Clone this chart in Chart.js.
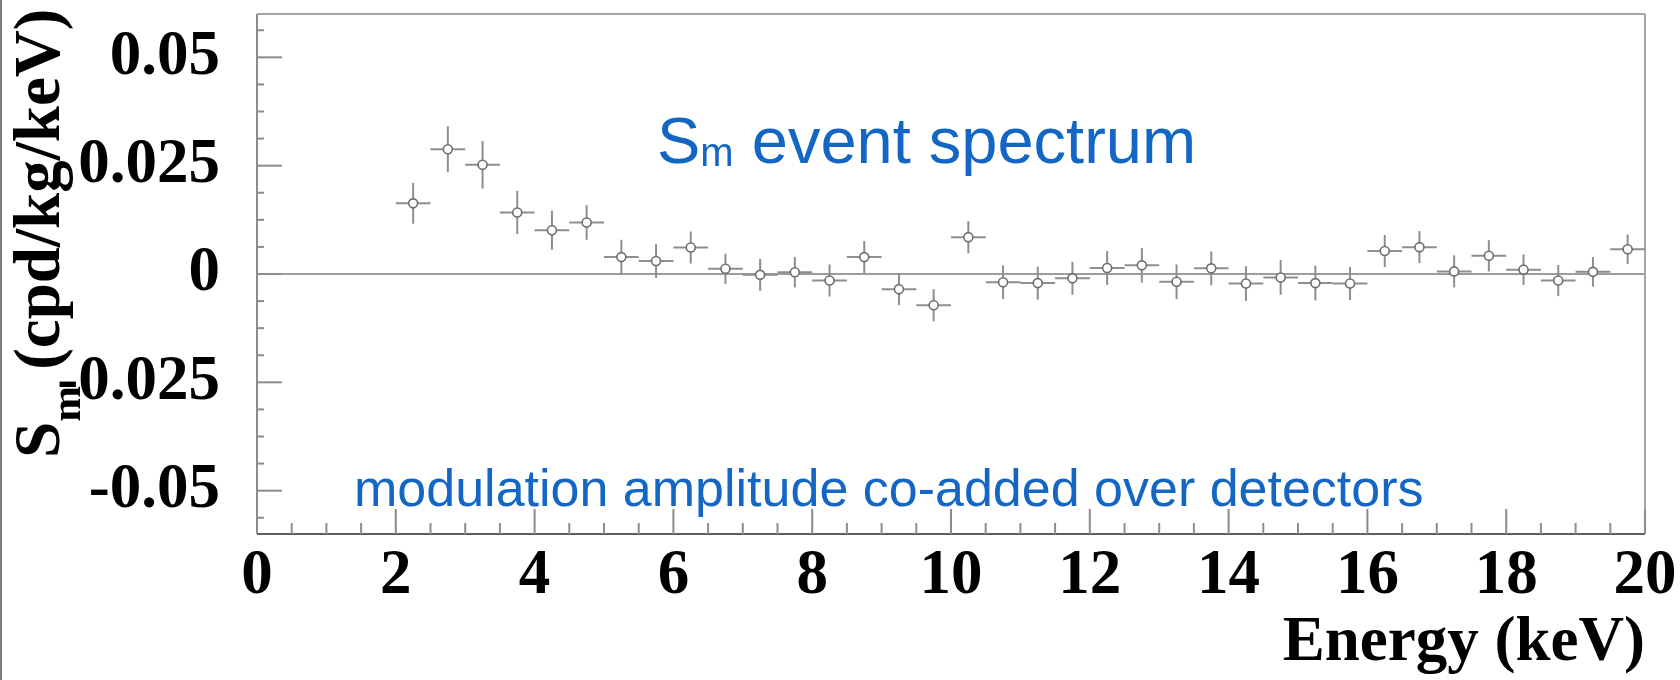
<!DOCTYPE html>
<html>
<head>
<meta charset="utf-8">
<script src="https://cdn.jsdelivr.net/npm/chart.js@4.4.1/dist/chart.umd.min.js"></script>
<style>
  html, body { margin: 0; padding: 0; background: #fff; }
  #wrap { width: 1680px; height: 680px; position: relative; }
</style>
</head>
<body>
<div id="wrap"><canvas id="smChart" width="1680" height="680"></canvas></div>
<script>
// energy bin centres (keV), 0.5 keV wide
const energyBins = [2.25, 2.75, 3.25, 3.75, 4.25, 4.75, 5.25, 5.75, 6.25, 6.75,
                    7.25, 7.75, 8.25, 8.75, 9.25, 9.75, 10.25, 10.75, 11.25, 11.75,
                    12.25, 12.75, 13.25, 13.75, 14.25, 14.75, 15.25, 15.75, 16.25, 16.75,
                    17.25, 17.75, 18.25, 18.75, 19.25, 19.75];
const binHalfWidth = 0.25;

// modulation amplitude Sm and its error (cpd/kg/keV)
const smValues = [0.0163, 0.0288, 0.0252, 0.0142, 0.0101, 0.0119, 0.0039, 0.0030, 0.0061, 0.0012,
                  -0.0002, 0.0004, -0.0015, 0.0039, -0.0035, -0.0072, 0.0085, -0.0019, -0.0021, -0.0010,
                  0.0014, 0.0020, -0.0018, 0.0013, -0.0022, -0.0008, -0.0021, -0.0022, 0.0053, 0.0062,
                  0.0006, 0.0042, 0.0010, -0.0015, 0.0005, 0.0057];
const smErrors = [0.0047, 0.0053, 0.0055, 0.0050, 0.0045, 0.0040, 0.0040, 0.0039, 0.0037, 0.0035,
                  0.0037, 0.0035, 0.0037, 0.0037, 0.0037, 0.0037, 0.0037, 0.0039, 0.0038, 0.0038,
                  0.0039, 0.0040, 0.0040, 0.0039, 0.0040, 0.0040, 0.0040, 0.0038, 0.0037, 0.0037,
                  0.0037, 0.0036, 0.0035, 0.0036, 0.0034, 0.0034];

const xTickValues = [0, 2, 4, 6, 8, 10, 12, 14, 16, 18, 20];
const yTickValues = [-0.05, -0.025, 0, 0.025, 0.05];
const yTickLabels = ['-0.05', '-0.025', '0', '0.025', '0.05'];

const serifBold = 'bold 63px "Liberation Serif"';
const blue = '#1366c3';

function seg(ctx, x1, y1, x2, y2) {
  ctx.beginPath();
  ctx.moveTo(x1, y1);
  ctx.lineTo(x2, y2);
  ctx.stroke();
}

// frame, inward ticks, zero line and error bars in the style of a ROOT canvas
const rootFrame = {
  id: 'rootFrame',
  beforeDatasetsDraw(chart) {
    const { ctx, chartArea: a } = chart;
    const x = chart.scales.x, y = chart.scales.y;
    ctx.save();

    // slide edge on the far left
    ctx.fillStyle = '#7a7a7a';
    ctx.fillRect(0, 0, 2, chart.height);

    ctx.lineWidth = 2;
    ctx.strokeStyle = '#9c9c9c';
    const y0 = y.getPixelForValue(0);
    seg(ctx, a.left, y0, a.right, y0);

    ctx.strokeStyle = '#a6a6a6';
    seg(ctx, a.left, a.top, a.right, a.top);
    seg(ctx, a.right, a.top, a.right, a.bottom);
    ctx.strokeStyle = '#8c8c8c';
    seg(ctx, a.left, a.top, a.left, a.bottom);
    ctx.strokeStyle = '#5e5e5e';
    seg(ctx, a.left, a.bottom, a.right, a.bottom);

    // x ticks: major every label, 3 minor in between
    ctx.strokeStyle = '#8c8c8c';
    const xStep = (xTickValues[1] - xTickValues[0]) / 4;
    for (let v = x.min; v <= x.max + 1e-9; v += xStep) {
      const px = x.getPixelForValue(v);
      const major = xTickValues.some(t => Math.abs(t - v) < 1e-9);
      seg(ctx, px, a.bottom, px, a.bottom - (major ? 25 : 11));
    }
    // y ticks
    const yStep = (yTickValues[1] - yTickValues[0]) / 4;
    let yStart = yTickValues[0];
    while (yStart - yStep >= y.min - 1e-9) yStart -= yStep;
    for (let v = yStart; v <= y.max + 1e-9; v += yStep) {
      const py = y.getPixelForValue(v);
      const major = yTickValues.some(t => Math.abs(t - v) < 1e-9);
      seg(ctx, a.left, py, a.left + (major ? 25 : 7), py);
    }

    // error bars: bin width horizontally, statistical error vertically
    ctx.strokeStyle = '#8e8e8e';
    ctx.lineWidth = 2;
    energyBins.forEach((e, i) => {
      const px = x.getPixelForValue(e);
      const py = y.getPixelForValue(smValues[i]);
      seg(ctx, x.getPixelForValue(e - binHalfWidth), py, x.getPixelForValue(e + binHalfWidth), py);
      seg(ctx, px, y.getPixelForValue(smValues[i] - smErrors[i]), px, y.getPixelForValue(smValues[i] + smErrors[i]));
    });
    ctx.restore();
  },
  afterDraw(chart) {
    const ctx = chart.ctx;
    ctx.save();
    ctx.textAlign = 'left';
    ctx.textBaseline = 'alphabetic';

    // y axis title, rotated, with subscript m
    ctx.save();
    ctx.translate(59, 458);
    ctx.rotate(-Math.PI / 2);
    ctx.fillStyle = '#000';
    ctx.font = 'bold 65px "Liberation Serif"';
    ctx.fillText('S', 0, 0);
    let w = ctx.measureText('S').width;
    ctx.font = 'bold 43px "Liberation Serif"';
    ctx.fillText('m', w, 21);
    w += ctx.measureText('m').width;
    ctx.font = 'bold 65px "Liberation Serif"';
    ctx.fillText(' (cpd/kg/keV)', w, 0);
    ctx.restore();

    // blue captions
    ctx.fillStyle = blue;
    ctx.font = '65px "Liberation Sans"';
    ctx.fillText('S', 657, 163);
    let tx = 657 + ctx.measureText('S').width;
    ctx.font = '40px "Liberation Sans"';
    ctx.fillText('m', tx, 166);
    tx += ctx.measureText('m').width;
    ctx.font = '65px "Liberation Sans"';
    ctx.fillText(' event spectrum', tx, 163);

    ctx.font = '52px "Liberation Sans"';
    ctx.fillText('modulation amplitude co-added over detectors', 354, 506);
    ctx.restore();
  }
};

new Chart(document.getElementById('smChart'), {
  type: 'scatter',
  data: {
    datasets: [{
      data: energyBins.map((e, i) => ({ x: e, y: smValues[i] })),
      pointStyle: 'circle',
      pointRadius: 4.5,
      pointBorderWidth: 1.6,
      pointBackgroundColor: '#fff',
      pointBorderColor: '#6e6e6e',
      showLine: false
    }]
  },
  plugins: [rootFrame],
  options: {
    responsive: false,
    animation: false,
    layout: { padding: { left: 0, right: 35, top: 14, bottom: 0 } },
    plugins: {
      legend: { display: false },
      tooltip: { enabled: false }
    },
    scales: {
      x: {
        type: 'linear',
        min: 0,
        max: 20,
        grid: { display: false, drawTicks: false },
        border: { display: false },
        afterBuildTicks: s => { s.ticks = xTickValues.map(v => ({ value: v })); },
        afterFit: s => { s.height = 146; s.paddingLeft = 0; s.paddingRight = 0; },
        ticks: {
          autoSkip: false,
          maxRotation: 0,
          color: '#000',
          padding: 11,
          font: { family: 'Liberation Serif', size: 63, weight: 'bold', lineHeight: 1 }
        },
        title: {
          display: true,
          text: 'Energy (keV)',
          align: 'end',
          color: '#000',
          padding: { top: 0, bottom: 5 },
          font: { family: 'Liberation Serif', size: 63, weight: 'bold', lineHeight: 1 }
        }
      },
      y: {
        type: 'linear',
        min: -0.06,
        max: 0.06,
        grid: { display: false, drawTicks: false },
        border: { display: false },
        afterBuildTicks: s => { s.ticks = yTickValues.map(v => ({ value: v })); },
        afterFit: s => { s.width = 257; s.paddingTop = 0; s.paddingBottom = 0; },
        ticks: {
          autoSkip: false,
          color: '#000',
          padding: 37,
          font: { family: 'Liberation Serif', size: 63, weight: 'bold', lineHeight: 1 },
          callback: v => {
            const k = yTickValues.findIndex(t => Math.abs(t - v) < 1e-9);
            return k >= 0 ? yTickLabels[k] : '';
          }
        }
      }
    }
  }
});
</script>
</body>
</html>
